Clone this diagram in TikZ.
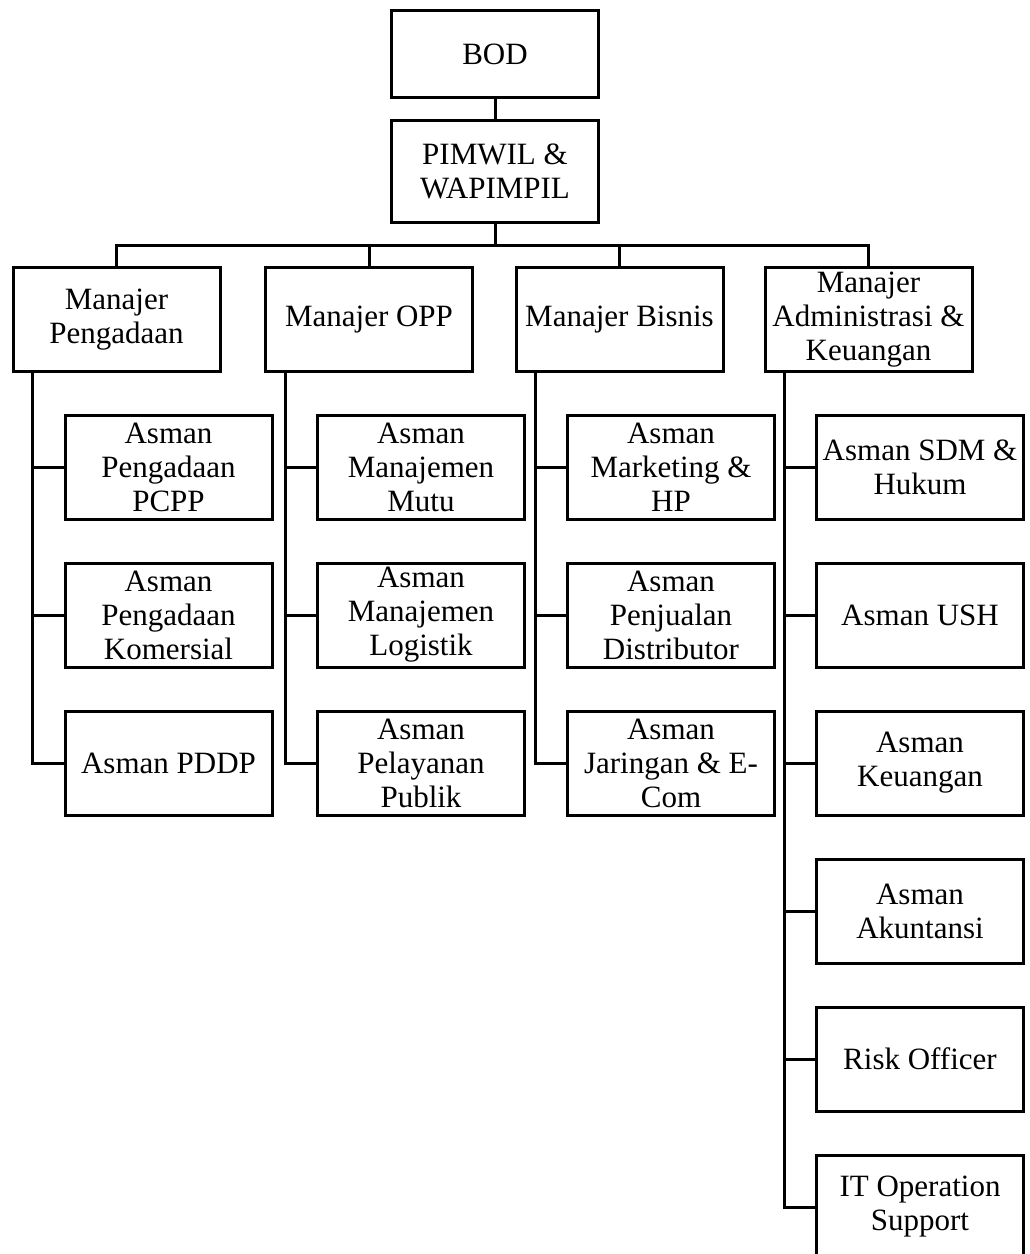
\documentclass[tikz,border=0pt]{standalone}
\usepackage{fontspec}
\setmainfont{Liberation Serif}
\usepackage{tikz}

\begin{document}
\begin{tikzpicture}[x=1pt,y=-1pt,
    orgbox/.style={draw,line width=3pt,minimum width=207pt,minimum height=104pt,
      inner sep=0pt,align=center,font=\fontsize{31}{34}\selectfont},
    link/.style={line width=3pt}]
    \useasboundingbox (0,0) rectangle (1029,1254);
    % top of the chart
    \node[orgbox,minimum height=87pt] (bod) at (495,54) {BOD};
    \node[orgbox,minimum height=102pt] (pim) at (495,171.5) {PIMWIL \&\\WAPIMPIL};
    \coordinate (bus) at (495,245);
    % managers
    \node[orgbox] (mpeng) at (116.5,319.5) {Manajer\\Pengadaan};
    \node[orgbox] (mopp) at (369,319.5) {Manajer OPP};
    \node[orgbox] (mbis) at (619.5,319.5) {Manajer Bisnis};
    \node[orgbox] (madm) at (868.5,319.5) {Manajer\\Administrasi \&\\Keuangan};
    % assistant managers
    \node[orgbox] (pcpp) at (168.5,467) {Asman\\Pengadaan\\PCPP};
    \node[orgbox] (kom) at (168.5,615) {Asman\\Pengadaan\\Komersial};
    \node[orgbox] (pddp) at (168.5,763) {Asman PDDP};
    \node[orgbox] (mutu) at (421,467) {Asman\\Manajemen\\Mutu};
    \node[orgbox] (log) at (421,615) {Asman\\Manajemen\\Logistik};
    \node[orgbox] (pub) at (421,763) {Asman\\Pelayanan\\Publik};
    \node[orgbox] (mkt) at (671,467) {Asman\\Marketing \&\\HP};
    \node[orgbox] (dist) at (671,615) {Asman\\Penjualan\\Distributor};
    \node[orgbox] (ecom) at (671,763) {Asman\\Jaringan \& E-\\Com};
    \node[orgbox] (sdm) at (920,467) {Asman SDM \&\\Hukum};
    \node[orgbox] (ush) at (920,615) {Asman USH};
    \node[orgbox] (keu) at (920,763) {Asman\\Keuangan};
    \node[orgbox] (aku) at (920,911) {Asman\\Akuntansi};
    \node[orgbox] (risk) at (920,1059) {Risk Officer};
    \node[orgbox] (itos) at (920,1207) {IT Operation\\Support};
    % trunks below the managers
    \coordinate (tpeng) at ([xshift=21pt]mpeng.south west);
    \coordinate (topp) at ([xshift=21pt]mopp.south west);
    \coordinate (tbis) at ([xshift=21pt]mbis.south west);
    \coordinate (tadm) at ([xshift=21pt]madm.south west);
    % connectors
    \draw[link] (bod) -- (pim);
    \draw[link] (pim) -- (bus);
    \draw[link] (mpeng.north) |- (bus);
    \draw[link] (mopp.north) |- (bus);
    \draw[link] (mbis.north) |- (bus);
    \draw[link] (madm.north) |- (bus);
    \draw[link] (tpeng) |- (pcpp.west);
    \draw[link] (tpeng) |- (kom.west);
    \draw[link] (tpeng) |- (pddp.west);
    \draw[link] (topp) |- (mutu.west);
    \draw[link] (topp) |- (log.west);
    \draw[link] (topp) |- (pub.west);
    \draw[link] (tbis) |- (mkt.west);
    \draw[link] (tbis) |- (dist.west);
    \draw[link] (tbis) |- (ecom.west);
    \draw[link] (tadm) |- (sdm.west);
    \draw[link] (tadm) |- (ush.west);
    \draw[link] (tadm) |- (keu.west);
    \draw[link] (tadm) |- (aku.west);
    \draw[link] (tadm) |- (risk.west);
    \draw[link] (tadm) |- (itos.west);
  \end{tikzpicture}
\end{document}
